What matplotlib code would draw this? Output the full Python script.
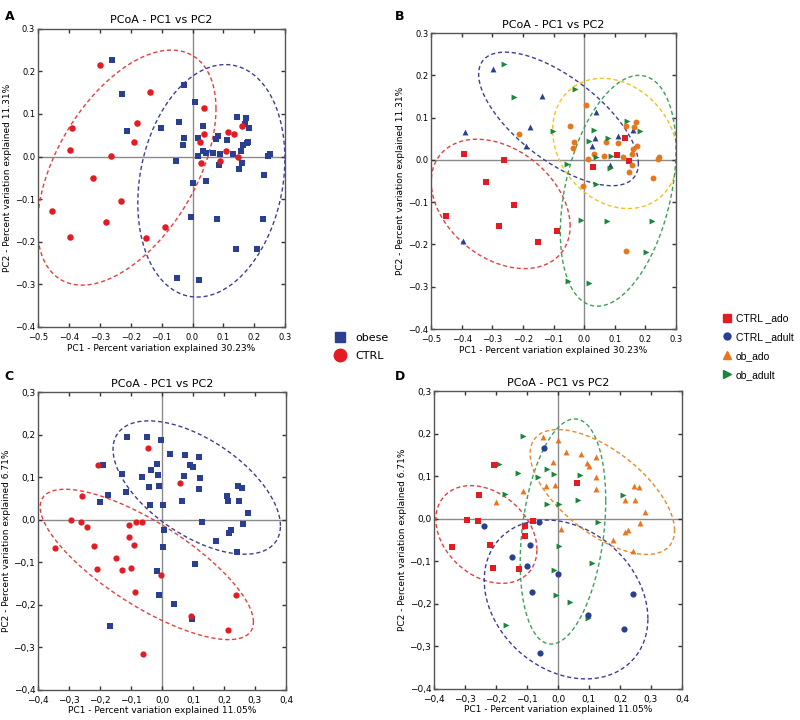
import numpy as np
import matplotlib
matplotlib.use("Agg")
import matplotlib.pyplot as plt
from matplotlib.ticker import FuncFormatter, MultipleLocator
from matplotlib.lines import Line2D

# ---- colours
BLUE = "#2b3f92"
RED = "#e31b23"
ORANGE = "#e8761c"
GREEN = "#17873a"

# ---- panel A (obese vs CTRL, PCoA 30.23% / 11.31%)
a_obese_x = [-0.259, -0.227, -0.213, -0.101, -0.026, -0.043, -0.029, -0.032, -0.052, 0.009, 0.035, 0.019,
             0.017, 0.034, 0.044, 0.066, 0.076, 0.084, 0.090, 0.086, 0.112, 0.130, 0.144, 0.173, 0.169,
             0.184, 0.157, 0.159, 0.149, 0.165, 0.176, 0.179, 0.244, 0.250, 0.000, 0.043, 0.230, -0.006,
             0.078, 0.228, 0.141, 0.208, -0.049, 0.021]
a_obese_y = [0.226, 0.148, 0.061, 0.068, 0.167, 0.080, 0.044, 0.027, -0.010, 0.128, 0.071, 0.044,
             0.002, 0.012, 0.008, 0.009, 0.041, 0.049, 0.006, -0.021, 0.038, 0.005, 0.092, 0.090, 0.076,
             0.068, 0.012, -0.014, -0.029, 0.026, 0.031, 0.033, 0.002, 0.005, -0.062, -0.058, -0.044, -0.143,
             -0.146, -0.146, -0.216, -0.218, -0.286, -0.290]
a_ctrl_x = [-0.299, -0.137, -0.391, -0.397, -0.178, -0.189, -0.264, -0.321, -0.232, -0.454, -0.281, -0.397,
            -0.151, -0.089, 0.038, 0.036, 0.025, 0.028, 0.088, 0.115, 0.134, 0.108, 0.146, 0.161]
a_ctrl_y = [0.215, 0.152, 0.067, 0.016, 0.079, 0.035, 0.002, -0.050, -0.105, -0.129, -0.153, -0.190,
            -0.192, -0.166, 0.113, 0.053, 0.035, -0.016, -0.011, 0.058, 0.053, 0.014, -0.001, 0.072]

# ---- panel B (4 groups, same axes as A)
b_ctrl_ado_x = [-0.393, -0.262, -0.320, -0.230, -0.451, -0.279, -0.151, -0.088, 0.028, 0.107, 0.134, 0.145]
b_ctrl_ado_y = [0.014, -0.001, -0.051, -0.107, -0.132, -0.156, -0.195, -0.168, -0.017, 0.011, 0.051, -0.003]
b_ctrl_adult_x = [-0.298, -0.138, -0.178, -0.189, -0.390, -0.396, 0.037, 0.034, 0.025, 0.085, 0.112, 0.158]
b_ctrl_adult_y = [0.215, 0.151, 0.077, 0.034, 0.066, -0.191, 0.113, 0.053, 0.034, -0.012, 0.056, 0.072]
b_ob_ado_x = [-0.214, -0.047, -0.033, -0.035, 0.005, 0.014, 0.032, 0.064, 0.071, 0.109, 0.126, 0.138,
              0.168, 0.164, 0.155, 0.160, 0.174, 0.155, 0.145, 0.240, 0.246, 0.226, -0.003, 0.137]
b_ob_ado_y = [0.062, 0.081, 0.043, 0.028, 0.129, 0.003, 0.013, 0.010, 0.043, 0.039, 0.006, 0.080,
              0.090, 0.077, 0.015, 0.026, 0.032, -0.013, -0.028, 0.003, 0.006, -0.043, -0.062, -0.215]
b_ob_adult_x = [-0.262, -0.229, -0.103, -0.029, -0.055, 0.032, 0.017, 0.039, 0.079, 0.086, 0.083, 0.140,
                0.182, 0.039, -0.012, 0.073, 0.223, 0.201, -0.053, 0.015]
b_ob_adult_y = [0.227, 0.148, 0.069, 0.168, -0.009, 0.072, 0.045, 0.008, 0.051, 0.009, -0.020, 0.092,
                0.069, -0.056, -0.143, -0.145, -0.145, -0.218, -0.286, -0.291]

# ---- panel C (obese vs CTRL, 11.05% / 6.71%)
c_obese_x = [-0.114, -0.049, -0.002, -0.191, -0.130, -0.116, -0.173, -0.201, -0.016, -0.036, -0.066, -0.013,
             -0.042, -0.010, -0.038, 0.003, 0.026, 0.073, 0.070, 0.065, 0.091, 0.099, 0.120, 0.121, 0.120,
             0.210, 0.213, 0.245, 0.259, 0.247, 0.279, 0.262, 0.130, 0.008, 0.002, 0.216, 0.224, 0.175,
             0.242, 0.108, -0.015, -0.010, 0.038, 0.096, -0.167]
c_obese_y = [0.195, 0.194, 0.188, 0.129, 0.108, 0.066, 0.059, 0.041, 0.132, 0.117, 0.100, 0.106,
             0.078, 0.080, 0.036, 0.034, 0.155, 0.153, 0.104, 0.045, 0.129, 0.125, 0.147, 0.099, 0.072,
             0.055, 0.045, 0.080, 0.076, 0.044, 0.017, -0.009, -0.006, -0.023, -0.063, -0.030, -0.025, -0.050,
             -0.076, -0.105, -0.121, -0.178, -0.198, -0.233, -0.251]
c_ctrl_x = [-0.046, -0.206, 0.058, -0.258, -0.294, -0.261, -0.243, -0.344, -0.220, -0.211, -0.150, -0.128,
            -0.100, -0.108, -0.108, -0.091, -0.084, -0.066, -0.087, -0.002, -0.060, 0.095, 0.239, 0.212]
c_ctrl_y = [0.169, 0.128, 0.086, 0.055, -0.001, -0.005, -0.017, -0.066, -0.062, -0.116, -0.090, -0.119,
            -0.113, -0.013, -0.041, -0.060, -0.005, -0.005, -0.171, -0.129, -0.316, -0.227, -0.176, -0.259]

# ---- panel D (4 groups, same axes as C)
d_ctrl_ado_x = [-0.206, -0.256, -0.294, -0.259, -0.342, -0.219, -0.210, -0.127, -0.105, -0.107, -0.081, 0.061]
d_ctrl_ado_y = [0.127, 0.055, -0.002, -0.005, -0.066, -0.062, -0.116, -0.119, -0.016, -0.041, -0.006, 0.085]
d_ctrl_adult_x = [-0.045, -0.240, -0.149, -0.089, -0.099, -0.084, -0.062, 0.000, -0.059, 0.096, 0.241, 0.213]
d_ctrl_adult_y = [0.167, -0.018, -0.091, -0.061, -0.112, -0.172, -0.008, -0.130, -0.316, -0.227, -0.177, -0.259]
d_ob_ado_x = [-0.047, 0.000, 0.027, 0.075, -0.015, -0.040, -0.009, -0.114, -0.200, 0.093, 0.100, 0.122,
              0.122, 0.121, 0.215, 0.248, 0.245, 0.261, 0.282, 0.263, 0.217, 0.226, 0.177, 0.242, 0.010]
d_ob_ado_y = [0.193, 0.186, 0.156, 0.153, 0.133, 0.078, 0.080, 0.066, 0.039, 0.132, 0.125, 0.145,
              0.099, 0.071, 0.044, 0.043, 0.078, 0.074, 0.016, -0.010, -0.032, -0.027, -0.051, -0.076, -0.025]
d_ob_adult_x = [-0.113, -0.191, -0.130, -0.172, -0.066, -0.036, -0.014, -0.036, 0.004, 0.070, 0.065, 0.211,
                0.130, 0.004, 0.109, -0.013, -0.008, 0.039, 0.097, -0.167, -0.105]
d_ob_adult_y = [0.195, 0.128, 0.107, 0.058, 0.099, 0.117, 0.105, 0.035, 0.034, 0.104, 0.044, 0.055,
                -0.008, -0.065, -0.105, -0.121, -0.179, -0.197, -0.234, -0.251, -0.020]

# ---- confidence ellipses: centre x, centre y, half-width, half-height, phase (deg)
a_ellipses = [(-0.213, -0.026, 0.289, 0.276, 60, "#e2403e"),
              (0.061, -0.057, 0.238, 0.273, 79, "#3d3f95")]
b_ellipses = [(-0.273, -0.104, 0.227, 0.153, 110, "#e2403e"),
              (-0.084, 0.097, 0.261, 0.158, 132, "#3d3f95"),
              (0.101, 0.039, 0.204, 0.154, 102, "#f2c318"),
              (0.111, -0.073, 0.189, 0.273, 69, "#3aa05a")]
c_ellipses = [(0.112, 0.076, 0.270, 0.157, 125, "#3d3f95"),
              (-0.049, -0.105, 0.344, 0.177, 140, "#e2403e")]
d_ellipses = [(-0.231, -0.037, 0.163, 0.115, 108, "#e2403e"),
              (0.026, -0.190, 0.264, 0.187, 104, "#3d3f95"),
              (0.016, -0.030, 0.138, 0.265, 74, "#3aa05a"),
              (0.143, 0.063, 0.233, 0.147, 128, "#e8892a")]


def fmt_dot(v, p):
    return f"{v:.1f}".replace("-", "\u2212")


def fmt_comma(v, p):
    return f"{v:.1f}".replace(".", ",").replace("-", "\u2212")


def draw_ellipse(ax, cx, cy, rx, ry, phase, color):
    t = np.linspace(0, 2 * np.pi, 300)
    ph = np.deg2rad(phase)
    ax.plot(cx + rx * np.cos(t), cy + ry * np.cos(t - ph), color=color,
            ls=(0, (3, 2)), lw=1.0, zorder=2)


def style_axes(ax, xlim, xlabel, ylabel, fmt, tick_fs):
    ax.set_xlim(*xlim)
    ax.set_ylim(-0.4, 0.3)
    ax.xaxis.set_major_locator(MultipleLocator(0.1))
    ax.yaxis.set_major_locator(MultipleLocator(0.1))
    ax.xaxis.set_major_formatter(FuncFormatter(fmt))
    ax.yaxis.set_major_formatter(FuncFormatter(fmt))
    ax.tick_params(direction="in", length=3, width=1, top=True, right=True,
                   labelsize=tick_fs, pad=2, color="#333333")
    ax.tick_params(axis="x", pad=4.5)
    for s in ax.spines.values():
        s.set_color("#555555")
        s.set_linewidth(1.0)
    ax.axhline(0, color="#8a8a8a", lw=1.0, zorder=1)
    ax.axvline(0, color="#8a8a8a", lw=1.0, zorder=1)
    ax.set_title("PCoA - PC1 vs PC2", fontsize=8, pad=4)
    ax.set_xlabel(xlabel, fontsize=6.5, labelpad=1)
    ax.set_ylabel(ylabel, fontsize=6.5, labelpad=2)


fig = plt.figure(figsize=(8, 7.2), dpi=100)
axA = fig.add_axes([0.0475, 0.546, 0.309, 0.414])
axB = fig.add_axes([0.539, 0.543, 0.306, 0.411])
axC = fig.add_axes([0.0475, 0.042, 0.310, 0.413])
axD = fig.add_axes([0.5425, 0.0435, 0.310, 0.413])

lab_ab_x = "PC1 - Percent variation explained 30.23%"
lab_ab_y = "PC2 - Percent variation explained 11.31%"
lab_cd_x = "PC1 - Percent variation explained 11.05%"
lab_cd_y = "PC2 - Percent variation explained 6.71%"

# A
style_axes(axA, (-0.5, 0.3), lab_ab_x, lab_ab_y, fmt_dot, 6)
for e in a_ellipses:
    draw_ellipse(axA, *e)
axA.scatter(a_obese_x, a_obese_y, marker="s", s=16, c=BLUE, lw=0, zorder=3)
axA.scatter(a_ctrl_x, a_ctrl_y, marker="o", s=22, c=RED, lw=0, zorder=3)

# B
style_axes(axB, (-0.5, 0.3), lab_ab_x, lab_ab_y, fmt_dot, 6)
for e in b_ellipses:
    draw_ellipse(axB, *e)
axB.scatter(b_ctrl_ado_x, b_ctrl_ado_y, marker="s", s=13, c=RED, lw=0, zorder=3)
axB.scatter(b_ctrl_adult_x, b_ctrl_adult_y, marker="^", s=18, c=BLUE, lw=0, zorder=3)
axB.scatter(b_ob_ado_x, b_ob_ado_y, marker="o", s=18, c=ORANGE, lw=0, zorder=3)
axB.scatter(b_ob_adult_x, b_ob_adult_y, marker=">", s=18, c=GREEN, lw=0, zorder=3)

# C
style_axes(axC, (-0.4, 0.4), lab_cd_x, lab_cd_y, fmt_comma, 6.5)
for e in c_ellipses:
    draw_ellipse(axC, *e)
axC.scatter(c_obese_x, c_obese_y, marker="s", s=22, c=BLUE, lw=0, zorder=3)
axC.scatter(c_ctrl_x, c_ctrl_y, marker="o", s=20, c=RED, lw=0, zorder=3)

# D
style_axes(axD, (-0.4, 0.4), lab_cd_x, lab_cd_y, fmt_comma, 6.5)
for e in d_ellipses:
    draw_ellipse(axD, *e)
axD.scatter(d_ob_adult_x, d_ob_adult_y, marker=">", s=18, c=GREEN, lw=0, zorder=3)
axD.scatter(d_ob_ado_x, d_ob_ado_y, marker="^", s=18, c=ORANGE, lw=0, zorder=3)
axD.scatter(d_ctrl_adult_x, d_ctrl_adult_y, marker="o", s=20, c=BLUE, lw=0, zorder=3)
axD.scatter(d_ctrl_ado_x, d_ctrl_ado_y, marker="s", s=22, c=RED, lw=0, zorder=3)

# panel letters
for x, y, t in [(0.006, 0.986, "A"), (0.494, 0.986, "B"), (0.006, 0.486, "C"), (0.494, 0.486, "D")]:
    fig.text(x, y, t, fontsize=9, fontweight="bold", va="top")

# legends
leg_font = {"family": ["Liberation Sans Narrow", "Liberation Sans"], "size": 7.5}
h1 = [Line2D([], [], ls="", marker="s", ms=7, color=BLUE),
      Line2D([], [], ls="", marker="o", ms=9, color=RED)]
fig.legend(h1, ["obese", "CTRL"], loc="upper left", bbox_to_anchor=(0.405, 0.552),
           frameon=False, prop={"size": 8}, handletextpad=0.9, labelspacing=0.75, handlelength=1.0)

h2 = [Line2D([], [], ls="", marker="s", ms=6, color=RED),
      Line2D([], [], ls="", marker="o", ms=5, color=BLUE),
      Line2D([], [], ls="", marker="^", ms=6, color=ORANGE),
      Line2D([], [], ls="", marker=">", ms=6, color=GREEN)]
fig.legend(h2, ["CTRL _ado", "CTRL _adult", "ob_ado", "ob_adult"], loc="upper left",
           bbox_to_anchor=(0.890, 0.578), frameon=False, prop=leg_font,
           handletextpad=0.4, labelspacing=0.85, handlelength=1.0)

fig.savefig("out.png", dpi=100)
